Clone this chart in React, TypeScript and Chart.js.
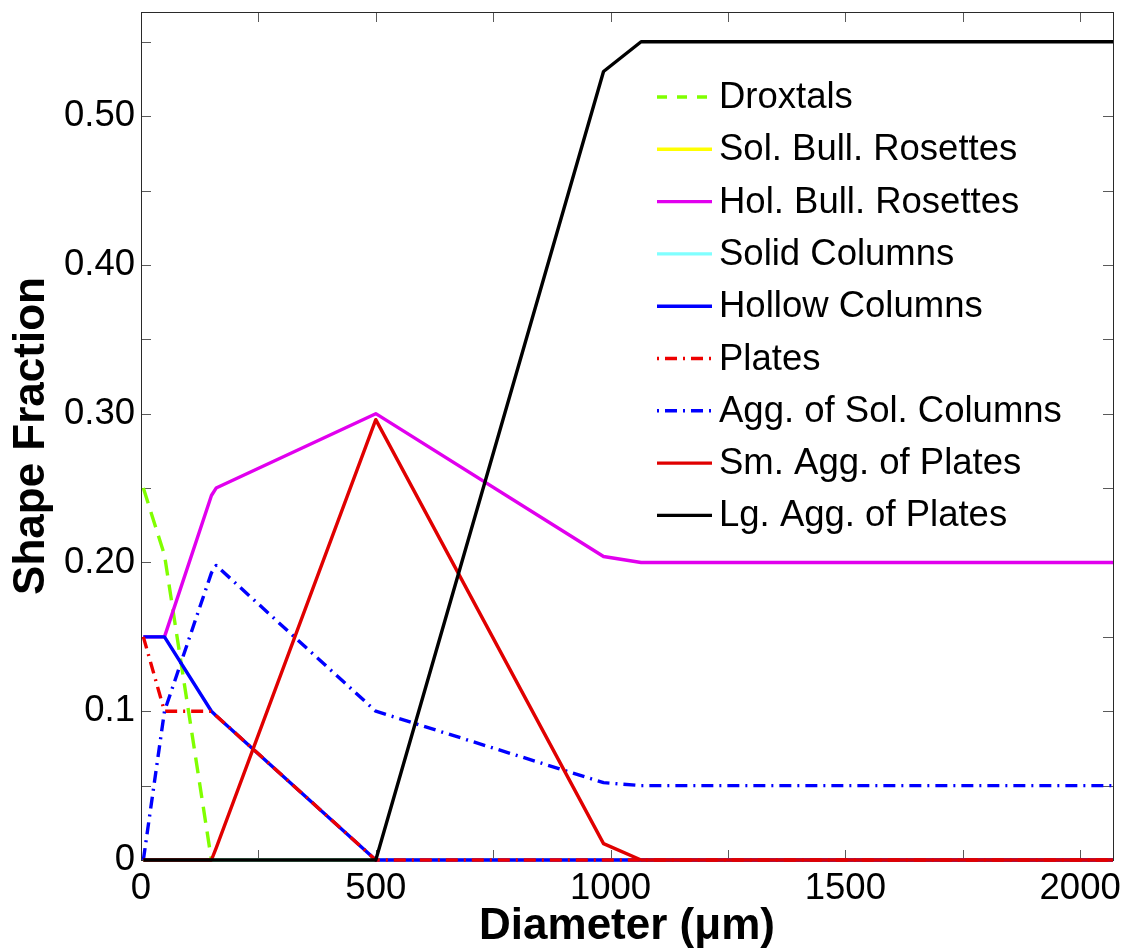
import React, { useEffect, useRef } from 'react';
import { Chart, registerables } from 'chart.js';

Chart.register(...registerables);

// Particle maximum dimension (µm) at which the habit mixture is specified
const diameters = [5, 50, 150, 160, 500, 985, 1065, 2070];

// Fraction of each ice-crystal habit at the diameters above
const droxtals = [0.25, 0.205, 0, 0, 0, 0, 0, 0];
const solBullRosettes = [0, 0, 0, 0, 0, 0, 0, 0];
const holBullRosettes = [0.15, 0.15, 0.245, 0.25, 0.3, 0.204, 0.2, 0.2];
const solidColumns = [0, 0, 0, 0, 0, 0, 0, 0];
const hollowColumns = [0.15, 0.15, 0.1, 0.097, 0, 0, 0, 0];
const plates = [0.15, 0.1, 0.1, 0.097, 0, 0, 0, 0];
const aggSolColumns = [0, 0.1, 0.193, 0.198, 0.1, 0.052, 0.05, 0.05];
const smAggPlates = [0, 0, 0, 0.008, 0.296, 0.011, 0, 0];
const lgAggPlates = [0, 0, 0, 0, 0, 0.53, 0.55, 0.55];

const seriesNames = [
  'Droxtals',
  'Sol. Bull. Rosettes',
  'Hol. Bull. Rosettes',
  'Solid Columns',
  'Hollow Columns',
  'Plates',
  'Agg. of Sol. Columns',
  'Sm. Agg. of Plates',
  'Lg. Agg. of Plates',
];
const seriesValues = [
  droxtals,
  solBullRosettes,
  holBullRosettes,
  solidColumns,
  hollowColumns,
  plates,
  aggSolColumns,
  smAggPlates,
  lgAggPlates,
];

const DASHED = [16, 9];
const DASH_DOT = [12, 6, 2, 6];
const seriesStyles = [
  { color: '#80ff00', dash: DASHED },
  { color: '#ffff00', dash: [] as number[] },
  { color: '#e100ee', dash: [] as number[] },
  { color: '#80ffff', dash: [] as number[] },
  { color: '#0000ff', dash: [] as number[] },
  { color: '#ee0000', dash: DASH_DOT },
  { color: '#0000ff', dash: DASH_DOT },
  { color: '#e00000', dash: [] as number[] },
  { color: '#000000', dash: [] as number[] },
];

// Labelled ticks: x every 500, y every 0.1 (minor marks every 250 / 0.05)
const xLabelStep = 500;
const yTickText: Record<number, string> = {
  0: '0',
  10: '0.1',
  20: '0.20',
  30: '0.30',
  40: '0.40',
  50: '0.50',
};

const FONT = '"Liberation Sans", Arial, Helvetica, sans-serif';
const TICK_SIZE = 36.5;
const TITLE_SIZE = 44;
const LINE_WIDTH = 3.4;

// Box around the axes with inward tick marks on all four sides
const framePlugin = {
  id: 'frameTicks',
  beforeDatasetsDraw(chart: any) {
    const { ctx, chartArea: a, scales } = chart;
    ctx.save();
    ctx.strokeStyle = '#5a5a5a';
    ctx.lineWidth = 1;
    ctx.setLineDash([]);
    const len = 10;
    scales.x.ticks.forEach((t: any) => {
      const px = Math.round(scales.x.getPixelForValue(t.value)) + 0.5;
      ctx.beginPath();
      ctx.moveTo(px, a.bottom);
      ctx.lineTo(px, a.bottom - len);
      ctx.moveTo(px, a.top);
      ctx.lineTo(px, a.top + len);
      ctx.stroke();
    });
    scales.y.ticks.forEach((t: any) => {
      const py = Math.round(scales.y.getPixelForValue(t.value)) + 0.5;
      ctx.beginPath();
      ctx.moveTo(a.left, py);
      ctx.lineTo(a.left + len, py);
      ctx.moveTo(a.right, py);
      ctx.lineTo(a.right - len, py);
      ctx.stroke();
    });
    ctx.strokeStyle = '#2a2a2a';
    ctx.strokeRect(
      Math.round(a.left) + 0.5,
      Math.round(a.top) + 0.5,
      Math.round(a.right - a.left),
      Math.round(a.bottom - a.top)
    );
    ctx.restore();
  },
};

// Line-sample legend placed inside the upper right of the axes
const legendPlugin = {
  id: 'insideLegend',
  afterDatasetsDraw(chart: any) {
    const { ctx, chartArea: a } = chart;
    const sampleX0 = a.left + 516;
    const sampleX1 = sampleX0 + 55;
    const textX = sampleX1 + 7;
    const firstRow = a.top + 85;
    const rowGap = 52.3;
    ctx.save();
    ctx.font = `${TICK_SIZE}px ${FONT}`;
    ctx.textBaseline = 'middle';
    ctx.textAlign = 'left';
    seriesNames.forEach((name, i) => {
      const y = firstRow + i * rowGap;
      const st = seriesStyles[i];
      ctx.strokeStyle = st.color;
      ctx.lineWidth = LINE_WIDTH;
      let dash = st.dash;
      if (st.dash.length === 4) dash = [2, 6, 12, 6];
      else if (st.dash.length === 2) dash = [10, 10];
      ctx.setLineDash(dash);
      ctx.beginPath();
      ctx.moveTo(sampleX0, y);
      ctx.lineTo(sampleX1, y);
      ctx.stroke();
      ctx.setLineDash([]);
      ctx.fillStyle = '#000';
      ctx.fillText(name, textX, y + 1);
    });
    ctx.restore();
  },
};

// Keep the axes box fixed: no extra room reserved for half-height edge labels
const noEdgePadding = (scale: any) => {
  scale.paddingTop = 0;
  scale.paddingBottom = 0;
  scale.paddingLeft = 0;
  scale.paddingRight = 0;
};

export default function App() {
  const canvasRef = useRef<HTMLCanvasElement | null>(null);

  useEffect(() => {
    const canvas = canvasRef.current;
    if (!canvas) return;

    const n = seriesNames.length;
    const datasets = seriesNames.map((name, i) => ({
      label: name,
      data: diameters.map((d, k) => ({ x: d, y: seriesValues[i][k] })),
      borderColor: seriesStyles[i].color,
      backgroundColor: seriesStyles[i].color,
      borderDash: seriesStyles[i].dash,
      borderWidth: LINE_WIDTH,
      borderJoinStyle: 'round' as const,
      pointRadius: 0,
      tension: 0,
      fill: false,
      clip: 6,
      // later habits are painted over earlier ones
      order: n - i,
    }));

    const chart = new Chart(canvas, {
      type: 'line',
      data: { datasets },
      plugins: [framePlugin, legendPlugin],
      options: {
        animation: false,
        responsive: false,
        devicePixelRatio: 1,
        layout: { autoPadding: false, padding: { left: 0, top: 12, right: 16, bottom: 0 } },
        plugins: {
          legend: { display: false },
          tooltip: { enabled: false },
        },
        scales: {
          x: {
            type: 'linear',
            min: 0,
            max: 2070,
            grid: { display: false, drawTicks: false },
            border: { display: false },
            ticks: {
              stepSize: 250,
              includeBounds: false,
              autoSkip: false,
              maxRotation: 0,
              padding: 7,
              color: '#000',
              font: { family: FONT, size: TICK_SIZE },
              callback: (v: any) => (Number(v) % xLabelStep === 0 ? String(v) : ''),
            },
            title: {
              display: true,
              text: 'Diameter (\u03bcm)',
              color: '#000',
              font: { family: FONT, size: TITLE_SIZE, weight: 'bold' },
              padding: { top: 0, bottom: -2 },
            },
            afterFit: (scale: any) => {
              scale.height = 91;
              noEdgePadding(scale);
            },
          },
          y: {
            type: 'linear',
            min: 0,
            max: 0.57,
            grid: { display: false, drawTicks: false },
            border: { display: false },
            ticks: {
              stepSize: 0.05,
              includeBounds: false,
              autoSkip: false,
              padding: 6,
              color: '#000',
              font: { family: FONT, size: TICK_SIZE },
              callback: (v: any) => {
                const k = Math.round(Number(v) * 100);
                return yTickText[k] ?? '';
              },
            },
            title: {
              display: true,
              text: 'Shape Fraction',
              color: '#000',
              font: { family: FONT, size: TITLE_SIZE, weight: 'bold' },
              padding: { top: 5, bottom: 0 },
            },
            afterFit: (scale: any) => {
              scale.width = 141;
              noEdgePadding(scale);
            },
          },
        },
      },
    });

    return () => chart.destroy();
  }, []);

  return (
    <div style={{ position: 'absolute', left: 0, top: 0, width: 1129, height: 951, background: '#fff' }}>
      <canvas ref={canvasRef} width={1129} height={951} />
    </div>
  );
}
